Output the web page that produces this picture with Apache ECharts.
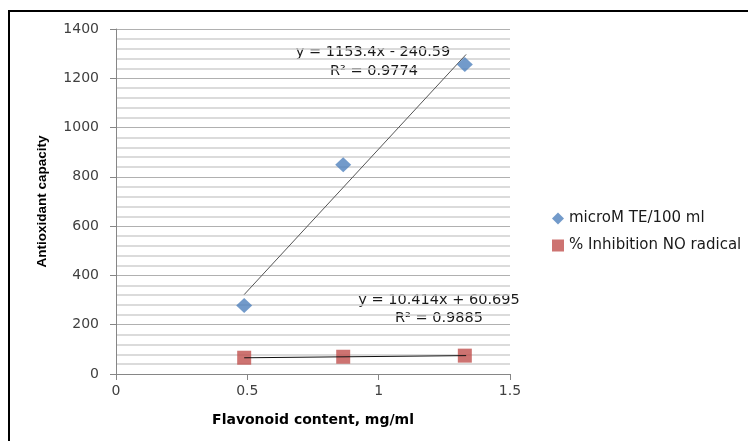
<!DOCTYPE html>
<html><head><meta charset="utf-8">
<script src="https://cdn.jsdelivr.net/npm/echarts@6/dist/echarts.min.js"></script>
<style>html,body{margin:0;padding:0;background:#fff}#c{width:748px;height:441px}</style>
</head><body><div id="c"></div>
<script>
const flavonoid = [0.488, 0.865, 1.328];
const microM = [278, 849, 1256];
const inhibition = [66, 70, 74.5];
const seriesNames = ['microM TE/100 ml', '% Inhibition NO radical'];
const trendSlope = [1153.4, 10.414];
const trendIntercept = [-240.59, 60.695];
const trendEq = ['y = 1153.4x - 240.59', 'y = 10.414x + 60.695'];
const trendR2 = ['R² = 0.9774', 'R² = 0.9885'];
const xTicks = [0, 0.5, 1, 1.5];
const yTicks = [0, 200, 400, 600, 800, 1000, 1200, 1400];

const xMin = Math.min(...flavonoid), xMax = Math.max(...flavonoid);
function trend(i) {
  return [[xMin, trendSlope[i] * xMin + trendIntercept[i]], [xMax + 0.005, trendSlope[i] * (xMax + 0.005) + trendIntercept[i]]];
}
const FONT = 'DejaVu Sans';
const chart = echarts.init(document.getElementById('c'));
chart.setOption({
  animation: false,
  backgroundColor: '#fff',
  grid: { left: 116, right: 238, top: 29, bottom: 67 },
  xAxis: {
    type: 'value', min: xTicks[0], max: xTicks[xTicks.length - 1], interval: xTicks[1] - xTicks[0],
    name: 'Flavonoid content, mg/ml', nameLocation: 'middle', nameGap: 39,
    nameTextStyle: { fontFamily: FONT, fontWeight: 'bold', fontSize: 14, color: '#000' },
    axisLine: { lineStyle: { color: '#868686' } },
    axisTick: { show: true, length: 6, lineStyle: { color: '#868686' } },
    axisLabel: { fontFamily: FONT, fontSize: 14, color: '#404040', margin: 10, formatter: v => String(v) },
    splitLine: { show: false }
  },
  yAxis: {
    type: 'value', min: yTicks[0], max: yTicks[yTicks.length - 1], interval: yTicks[1] - yTicks[0],
    name: 'Antioxidant capacity', nameLocation: 'middle', nameGap: 67,
    nameTextStyle: { fontFamily: 'Liberation Sans', fontWeight: 'bold', fontSize: 13.5, color: '#000' },
    axisLine: { show: true, lineStyle: { color: '#868686' } },
    axisTick: { show: true, length: 6, lineStyle: { color: '#868686' } },
    axisLabel: { fontFamily: FONT, fontSize: 14, color: '#404040', margin: 17, formatter: v => String(v) },
    splitLine: { show: true, lineStyle: { color: '#b0b0b0', width: 1 } },
    minorTick: { show: false, splitNumber: 5 },
    minorSplitLine: { show: true, lineStyle: { color: '#cfcfcf', width: 1.5 } }
  },
  legend: {
    orient: 'vertical', left: 547, top: 206, itemGap: 12,
    itemWidth: 12, itemHeight: 12,
    textStyle: { fontFamily: FONT, fontSize: 15, color: '#1a1a1a' },
    data: [
      { name: seriesNames[0], icon: 'diamond', itemStyle: { color: '#4f81bd' } },
      { name: seriesNames[1], icon: 'rect', itemStyle: { color: '#c0504d' } }
    ]
  },
  series: [
    { name: seriesNames[0] + ' trend', type: 'line', data: trend(0), showSymbol: false, silent: true,
      lineStyle: { color: '#555', width: 1 }, z: 1 },
    { name: seriesNames[1] + ' trend', type: 'line', data: trend(1), showSymbol: false, silent: true,
      lineStyle: { color: '#111', width: 1 }, z: 3 },
    { name: seriesNames[0], type: 'scatter', symbol: 'diamond', symbolSize: [16, 15],
      itemStyle: { color: '#4f81bd' }, data: flavonoid.map((x, i) => [x, microM[i]]), z: 2 },
    { name: seriesNames[1], type: 'scatter', symbol: 'rect', symbolSize: 14,
      itemStyle: { color: '#c0504d' }, data: flavonoid.map((x, i) => [x, inhibition[i]]), z: 2 }
  ],
  graphic: [
    { type: 'rect', shape: { x: 9, y: 11, width: 760, height: 460 }, style: { fill: 'none', stroke: '#000', lineWidth: 2 }, silent: true },
    { type: 'text', x: 373, y: 52, style: { text: trendEq[0], fontFamily: FONT, fontSize: 14.5, fill: '#1a1a1a', align: 'center', verticalAlign: 'middle' } },
    { type: 'text', x: 374, y: 71, style: { text: trendR2[0], fontFamily: FONT, fontSize: 14.5, fill: '#1a1a1a', align: 'center', verticalAlign: 'middle' } },
    { type: 'text', x: 439, y: 300, style: { text: trendEq[1], fontFamily: FONT, fontSize: 14.5, fill: '#1a1a1a', align: 'center', verticalAlign: 'middle' } },
    { type: 'text', x: 439, y: 318, style: { text: trendR2[1], fontFamily: FONT, fontSize: 14.5, fill: '#1a1a1a', align: 'center', verticalAlign: 'middle' } }
  ]
});
</script></body></html>
